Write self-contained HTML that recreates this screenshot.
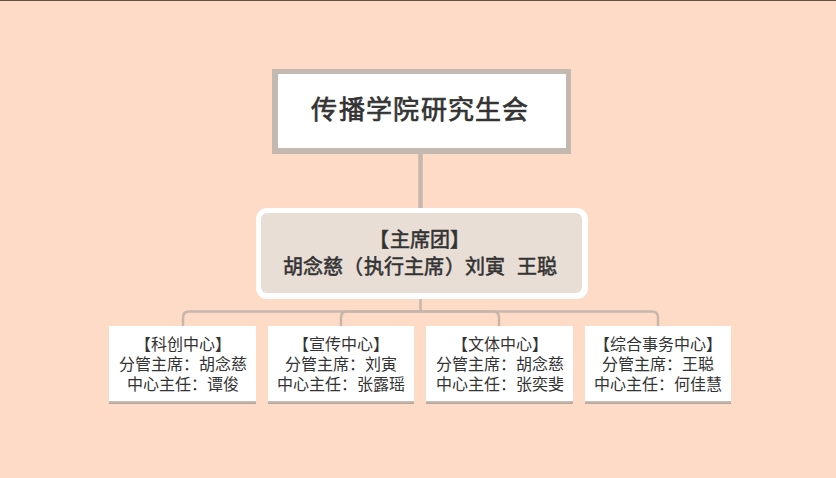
<!DOCTYPE html>
<html lang="zh-CN"><head><meta charset="utf-8">
<style>
html,body{margin:0;padding:0;}
body{width:836px;height:478px;overflow:hidden;position:relative;background:#fedbc6;font-family:"Liberation Sans",sans-serif;color:#333;}
.topline{position:absolute;left:0;top:0;width:836px;height:1px;background:#64503f;}
.title{position:absolute;left:272px;top:68.7px;width:299px;height:85px;background:#c4b9b1;}
.titlein{position:absolute;left:277.7px;top:74.4px;width:288.3px;height:73.6px;background:#fff;}
.mid{position:absolute;left:255.7px;top:207.9px;width:332.1px;height:91.5px;border-radius:11px;background:#fff;}
.midin{position:absolute;left:261.4px;top:213.4px;width:320.6px;height:79.8px;border-radius:6px;background:#e8ded6;}
.box{position:absolute;top:326.2px;width:146.5px;height:75.1px;background:#fff;}
.box::after{content:"";position:absolute;left:0;right:0;top:100%;height:2.8px;background:linear-gradient(#cfc2b9,#b1a298);}
.t{position:absolute;text-align:center;white-space:nowrap;}
.tt{left:0;width:841.2px;top:89.8px;font-size:26px;line-height:40px;letter-spacing:1.3px;-webkit-text-stroke:0.7px #333;}
.m{left:0;width:840px;font-size:20px;line-height:27px;letter-spacing:0.25px;-webkit-text-stroke:0.55px #333;}
.c{left:0;right:0;font-size:16px;line-height:20.2px;}
svg{position:absolute;left:0;top:0;}
</style></head><body>
<div class="topline"></div>
<svg width="836" height="478">
<g fill="none" stroke="#c8b6aa" stroke-width="2.5">
<path d="M420.5 299 V311.5"/>
<path d="M420.5 311.5 H189 Q183 311.5 183 317.5 V326"/>
<path d="M420.5 311.5 H347 Q341 311.5 341 317.5 V326"/>
<path d="M420.5 311.5 H493 Q499 311.5 499 317.5 V326"/>
<path d="M420.5 311.5 H652 Q658 311.5 658 317.5 V326"/>
</g>
<path d="M420.5 154 V208" stroke="#c6b8ae" stroke-width="4.5" fill="none"/>
</svg>
<div class="title"></div><div class="titlein"></div>
<div class="mid"></div><div class="midin"></div>
<div class="t tt">传播学院研究生会</div>
<div class="t m" style="top:227px">【主席团】</div>
<div class="t m" style="top:254px">胡念慈（执行主席）刘寅&nbsp;&nbsp;王聪</div>
<div class="box" style="left:109.3px"><div class="t c" style="top:9px">【科创中心】</div><div class="t c" style="top:29.1px">分管主席：胡念慈</div><div class="t c" style="top:49.2px">中心主任：谭俊</div></div>
<div class="box" style="left:267.8px"><div class="t c" style="top:9px">【宣传中心】</div><div class="t c" style="top:29.1px">分管主席：刘寅</div><div class="t c" style="top:49.2px">中心主任：张露瑶</div></div>
<div class="box" style="left:426.3px"><div class="t c" style="top:9px">【文体中心】</div><div class="t c" style="top:29.1px">分管主席：胡念慈</div><div class="t c" style="top:49.2px">中心主任：张奕斐</div></div>
<div class="box" style="left:584.8px"><div class="t c" style="top:9px">【综合事务中心】</div><div class="t c" style="top:29.1px">分管主席：王聪</div><div class="t c" style="top:49.2px">中心主任：何佳慧</div></div>
</body></html>
